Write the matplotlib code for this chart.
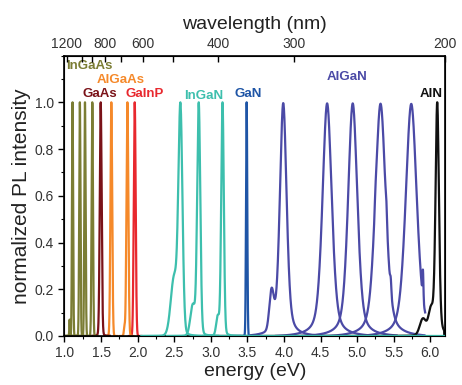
import numpy as np
import matplotlib
matplotlib.use("Agg")
import matplotlib.pyplot as plt
from matplotlib.ticker import MultipleLocator

plt.rcParams['font.family'] = ['Liberation Sans', 'DejaVu Sans']

# ---- data ----
materials = ["InGaAs", "GaAs", "AlGaAs", "GaInP", "InGaN", "GaN", "AlGaN", "AlN"]
colors = {"InGaAs": "#7b7d34", "GaAs": "#7a1218", "AlGaAs": "#f5892a", "GaInP": "#e8282e",
          "InGaN": "#3dbfad", "GaN": "#1f55a6", "AlGaN": "#4b4aa6", "AlN": "#111111"}

ingaas_peaks = [1.11, 1.21, 1.28, 1.38]
ingaas_fwhm = [0.018, 0.02, 0.02, 0.022]
gaas_peaks = [1.495]
gaas_fwhm = [0.03]
algaas_peaks = [1.64, 1.86]
algaas_fwhm = [0.028, 0.03]
gainp_peaks = [1.96]
gainp_fwhm = [0.03]
ingan_peaks = [2.585, 2.835, 3.16]
ingan_fwhm = [0.065, 0.05, 0.042]
ingan_shoulder_pos = [2.50, 2.755, 3.095]
ingan_shoulder_h = [0.26, 0.13, 0.08]
ingan_shoulder_w = [0.11, 0.08, 0.05]
gan_peaks = [3.49]
gan_fwhm = [0.02]
algan_peaks = [3.99, 4.59, 4.94, 5.32, 5.74]
algan_fwhm = [0.11, 0.15, 0.15, 0.17, 0.18]
algan_side_pos = [3.83, 5.25, 5.40, 5.46, 5.90]
algan_side_h = [0.16, 0.03, 0.05, 0.05, 0.12]
algan_side_w = [0.07, 0.02, 0.02, 0.02, 0.015]
aln_peak = [6.095]
aln_fwhm = [0.055]
aln_side_pos = [5.9, 6.01]
aln_side_h = [0.07, 0.1]
aln_side_w = [0.1, 0.08]

wl_ticks = [1200, 1000, 900, 800, 700, 600, 500, 400, 300, 200]
wl_labels = ["1200", "", "", "800", "", "600", "", "400", "300", "200"]

label_pos = {"InGaAs": (1.02, 1.155), "AlGaAs": (1.445, 1.095), "GaAs": (1.25, 1.035),
             "GaInP": (1.84, 1.035), "InGaN": (2.635, 1.027), "GaN": (3.33, 1.035),
             "AlGaN": (4.59, 1.108), "AlN": (5.86, 1.035)}


def comp(x, c, h, w, eta):
    g = np.exp(-4 * np.log(2) * ((x - c) / w) ** 2)
    l = 1.0 / (1 + ((x - c) / (w / 2)) ** 2)
    return h * (eta * l + (1 - eta) * g)


def spectrum(lo, hi, comps):
    x = np.linspace(lo, hi, 1500)
    y = np.zeros_like(x)
    for c in comps:
        y += comp(x, *c)
    return x, y / y.max()


fig = plt.figure(figsize=(4.62, 3.85), dpi=100)
ax = fig.add_axes([0.1396, 0.1273, 0.8234, 0.7283])

lw = 1.6

# AlGaN
for i, (p, w) in enumerate(zip(algan_peaks, algan_fwhm)):
    comps = [(p, 1.0, w, 0.45)]
    lo, hi = max(p - 0.7, 3.55), min(p + 0.6, 5.95)
    if i == 3:
        comps += [(algan_side_pos[j], algan_side_h[j], algan_side_w[j], 0.0) for j in (1, 2, 3)]
    if i == 0:
        comps.append((algan_side_pos[0], algan_side_h[0], algan_side_w[0], 0.0))
    if i == 4:
        comps.append((algan_side_pos[4], algan_side_h[4], algan_side_w[4], 0.0))
        hi = 5.93
    x, y = spectrum(lo, hi, comps)
    y = y - y.min() * 0.9
    ax.plot(x, y, color=colors["AlGaN"], lw=lw)

# AlN
comps = [(aln_peak[0], 1.0, aln_fwhm[0], 0.3)]
comps += [(p, h, w, 0.0) for p, h, w in zip(aln_side_pos, aln_side_h, aln_side_w)]
x, y = spectrum(2.95, 6.2, comps)
y[x > 6.19] = 0
ax.plot(x, y, color=colors["AlN"], lw=lw)

# GaN
x, y = spectrum(3.3, 3.7, [(gan_peaks[0], 1.0, gan_fwhm[0], 0.0)])
ax.plot(x, y, color=colors["GaN"], lw=lw)

# InGaN
ranges = [(2.05, 6.2), (2.4, 3.1), (2.9, 3.4)]
for p, w, sp, sh, sw, r in zip(ingan_peaks, ingan_fwhm, ingan_shoulder_pos,
                                ingan_shoulder_h, ingan_shoulder_w, ranges):
    x, y = spectrum(r[0], r[1], [(p, 1.0, w, 0.1), (sp, sh, sw, 0.0)])
    ax.plot(x, y, color=colors["InGaN"], lw=lw, zorder=3)

# GaInP
x, y = spectrum(1.88, 2.05, [(gainp_peaks[0], 1.0, gainp_fwhm[0], 0.0)])
ax.plot(x, y, color=colors["GaInP"], lw=lw)

# AlGaAs
for p, w in zip(algaas_peaks, algaas_fwhm):
    comps = [(p, 1.0, w, 0.0)]
    if p > 1.8:
        comps.append((1.82, 0.04, 0.02, 0.0))
    x, y = spectrum(p - 0.1, p + 0.08, comps)
    ax.plot(x, y, color=colors["AlGaAs"], lw=lw)

# GaAs
x, y = spectrum(1.38, 1.62, [(gaas_peaks[0], 1.0, gaas_fwhm[0], 0.05)])
ax.plot(x, y, color=colors["GaAs"], lw=lw)

# InGaAs
for i, (p, w) in enumerate(zip(ingaas_peaks, ingaas_fwhm)):
    comps = [(p, 1.0, w, 0.0)]
    if i == 0:
        comps.append((1.07, 0.07, 0.01, 0.0))
    x, y = spectrum(1.0, min(p + 0.08, 1.45), comps)
    ax.plot(x, y, color=colors["InGaAs"], lw=lw)

for name, (tx, ty) in label_pos.items():
    ax.text(tx, ty, name, color=colors[name], fontsize=9.5, fontweight="bold",
            ha="left", va="center")

ax.set_xlim(1.0, 6.2)
ax.set_ylim(0, 1.2)
ax.xaxis.set_major_locator(MultipleLocator(0.5))
ax.xaxis.set_minor_locator(MultipleLocator(0.25))
ax.yaxis.set_minor_locator(MultipleLocator(0.1))
ax.set_yticks([0, 0.2, 0.4, 0.6, 0.8, 1.0])
ax.set_xlabel("energy (eV)", fontsize=14, color="#222222", labelpad=2)
ax.set_ylabel("normalized PL intensity", fontsize=15, color="#222222", labelpad=3)
ax.tick_params(axis="both", which="major", labelsize=10, labelcolor="#333333",
               direction="out", length=4, width=1)
ax.tick_params(axis="both", which="minor", direction="out", length=2.5, width=0.8)
ax.tick_params(top=False, right=False, which="both")
for s in ax.spines.values():
    s.set_linewidth(1.2)

ax2 = ax.twiny()
ax2.set_xlim(ax.get_xlim())
ax2.set_xticks([1239.84 / w for w in wl_ticks])
ax2.set_xticklabels(wl_labels)
ax2.tick_params(axis="x", direction="in", length=4, width=1, labelsize=10,
                labelcolor="#333333", pad=3)
ax2.set_xlabel("wavelength (nm)", fontsize=14, color="#222222", labelpad=6)

fig.savefig("out.png", dpi=100)
